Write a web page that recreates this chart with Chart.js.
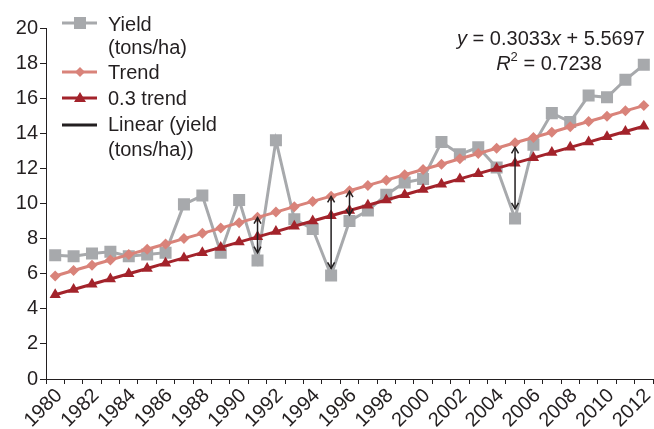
<!DOCTYPE html>
<html lang="en">
<head>
    <meta charset="UTF-8">
    <title>Yield trend</title>
    <style>
        body {
            margin: 0;
            background-color: #ffffff;
        }
        #chart {
            display: block;
        }
    </style>
</head>
<body>
    <canvas id="chart" width="654" height="429"></canvas>

    <script src="https://cdn.jsdelivr.net/npm/chart.js"></script>
    <script>
        // Chart values
        const years = ['1980', '1981', '1982', '1983', '1984', '1985', '1986', '1987', '1988', '1989',
            '1990', '1991', '1992', '1993', '1994', '1995', '1996', '1997', '1998', '1999',
            '2000', '2001', '2002', '2003', '2004', '2005', '2006', '2007', '2008', '2009',
            '2010', '2011', '2012'];
        const yieldTons = [7.05, 7.0, 7.15, 7.25, 7.0, 7.1, 7.2, 9.95, 10.45, 7.2,
            10.2, 6.75, 13.6, 9.1, 8.55, 5.9, 9.0, 9.6, 10.5, 11.2,
            11.4, 13.5, 12.8, 13.2, 12.05, 9.15, 13.35, 15.15, 14.65, 16.15,
            16.05, 17.05, 17.9];
        const trend = [5.87, 6.18, 6.48, 6.78, 7.09, 7.39, 7.69, 8.00, 8.30, 8.60,
            8.91, 9.21, 9.51, 9.82, 10.12, 10.42, 10.73, 11.03, 11.33, 11.64,
            11.94, 12.24, 12.55, 12.85, 13.15, 13.46, 13.76, 14.06, 14.37, 14.67,
            14.97, 15.28, 15.58];
        const trend03 = [4.8, 5.1, 5.4, 5.7, 6.0, 6.3, 6.6, 6.9, 7.2, 7.5,
            7.8, 8.1, 8.4, 8.7, 9.0, 9.3, 9.6, 9.9, 10.2, 10.5,
            10.8, 11.1, 11.4, 11.7, 12.0, 12.3, 12.6, 12.9, 13.2, 13.5,
            13.8, 14.1, 14.4];
        const yTicks = [0, 2, 4, 6, 8, 10, 12, 14, 16, 18, 20];

        // double-headed arrows (year, top value, bottom value)
        const arrowYears = ['1991', '1995', '1996', '2005'];
        const arrowTop = [9.2, 10.4, 10.7, 13.2];
        const arrowBottom = [7.2, 6.3, 9.35, 9.7];

        const GREY = '#a7a9ac';
        const SALMON = '#d9837a';
        const DARKRED = '#a3232b';
        const INK = '#231f20';
        const FONT = '"Liberation Sans", Arial, Helvetica, sans-serif';

        function arrowHead(ctx, x, y, dir) {
            ctx.beginPath();
            ctx.moveTo(x - 3.5, y + dir * 6);
            ctx.lineTo(x, y);
            ctx.lineTo(x + 3.5, y + dir * 6);
            ctx.stroke();
        }

        const arrowsPlugin = {
            id: 'arrows',
            afterDatasetsDraw(chart) {
                const ctx = chart.ctx;
                const xs = chart.scales.x;
                const ys = chart.scales.y;
                ctx.save();
                ctx.strokeStyle = INK;
                ctx.lineWidth = 1.5;
                arrowYears.forEach((yr, i) => {
                    const px = xs.getPixelForValue(years.indexOf(yr));
                    const top = ys.getPixelForValue(arrowTop[i]);
                    const bot = ys.getPixelForValue(arrowBottom[i]);
                    ctx.beginPath();
                    ctx.moveTo(px, top);
                    ctx.lineTo(px, bot);
                    ctx.stroke();
                    arrowHead(ctx, px, top, 1);
                    arrowHead(ctx, px, bot, -1);
                });
                ctx.restore();
            }
        };

        // text pieces: [text, italic, superscript]
        function drawRich(ctx, parts, cx, baseline) {
            let total = 0;
            parts.forEach(p => {
                ctx.font = (p[1] ? 'italic ' : '') + (p[2] ? '13px ' : '20px ') + FONT;
                total += ctx.measureText(p[0]).width;
            });
            let x = cx - total / 2;
            parts.forEach(p => {
                ctx.font = (p[1] ? 'italic ' : '') + (p[2] ? '13px ' : '20px ') + FONT;
                ctx.fillText(p[0], x, p[2] ? baseline - 9 : baseline);
                x += ctx.measureText(p[0]).width;
            });
        }

        const legendPlugin = {
            id: 'customLegend',
            afterDraw(chart) {
                const ctx = chart.ctx;
                ctx.save();
                ctx.lineWidth = 3;

                // Yield
                ctx.strokeStyle = GREY;
                ctx.beginPath(); ctx.moveTo(62, 23); ctx.lineTo(97, 23); ctx.stroke();
                ctx.fillStyle = GREY;
                ctx.fillRect(74, 17, 12, 12);

                // Trend
                ctx.strokeStyle = SALMON;
                ctx.beginPath(); ctx.moveTo(62, 72); ctx.lineTo(97, 72); ctx.stroke();
                ctx.fillStyle = SALMON;
                ctx.beginPath();
                ctx.moveTo(80, 67); ctx.lineTo(85, 72); ctx.lineTo(80, 77); ctx.lineTo(75, 72);
                ctx.closePath(); ctx.fill();

                // 0.3 trend
                ctx.strokeStyle = DARKRED;
                ctx.beginPath(); ctx.moveTo(62, 98); ctx.lineTo(97, 98); ctx.stroke();
                ctx.fillStyle = DARKRED;
                ctx.beginPath();
                ctx.moveTo(80, 92); ctx.lineTo(86, 102); ctx.lineTo(74, 102);
                ctx.closePath(); ctx.fill();

                // Linear
                ctx.strokeStyle = INK;
                ctx.beginPath(); ctx.moveTo(62, 125); ctx.lineTo(97, 125); ctx.stroke();

                ctx.fillStyle = INK;
                ctx.font = '20px ' + FONT;
                ctx.textBaseline = 'alphabetic';
                ctx.textAlign = 'left';
                ctx.fillText('Yield', 108, 31);
                ctx.fillText('(tons/ha)', 108, 54);
                ctx.fillText('Trend', 108, 79);
                ctx.fillText('0.3 trend', 108, 105);
                ctx.fillText('Linear (yield', 108, 131);
                ctx.fillText('(tons/ha))', 108, 156);

                // regression equation
                drawRich(ctx, [['y', true], [' = 0.3033', false], ['x', true], [' + 5.5697', false]], 551, 45);
                drawRich(ctx, [['R', true], ['2', false, true], [' = 0.7238', false]], 549, 70);
                ctx.restore();
            }
        };

        new Chart(document.getElementById('chart'), {
            type: 'line',
            data: {
                labels: years,
                datasets: [
                    {
                        label: 'Yield (tons/ha)',
                        data: yieldTons,
                        borderColor: GREY,
                        backgroundColor: GREY,
                        borderWidth: 3,
                        pointStyle: 'rect',
                        pointRadius: 8.5,
                        pointBorderWidth: 0,
                        order: 4
                    },
                    {
                        label: 'Linear (yield (tons/ha))',
                        data: trend,
                        borderColor: INK,
                        borderWidth: 1,
                        pointRadius: 0,
                        order: 3
                    },
                    {
                        label: 'Trend',
                        data: trend,
                        borderColor: SALMON,
                        backgroundColor: SALMON,
                        borderWidth: 3,
                        pointStyle: 'rectRot',
                        pointRadius: 5.5,
                        pointBorderWidth: 0,
                        order: 2
                    },
                    {
                        label: '0.3 trend',
                        data: trend03,
                        borderColor: DARKRED,
                        backgroundColor: DARKRED,
                        borderWidth: 3,
                        pointStyle: 'triangle',
                        pointRadius: 6.5,
                        pointBorderWidth: 0,
                        order: 1
                    }
                ]
            },
            options: {
                responsive: false,
                animation: false,
                devicePixelRatio: 1,
                layout: {
                    autoPadding: false,
                    padding: { top: 28, right: 1, left: 0, bottom: 0 }
                },
                plugins: {
                    legend: { display: false },
                    tooltip: { enabled: false }
                },
                scales: {
                    x: {
                        offset: true,
                        grid: {
                            offset: true,
                            drawOnChartArea: false,
                            tickLength: 5,
                            color: INK
                        },
                        border: { color: INK, width: 1 },
                        ticks: {
                            autoSkip: false,
                            minRotation: 45,
                            maxRotation: 45,
                            padding: 0,
                            labelOffset: 4,
                            color: INK,
                            font: { family: FONT, size: 20 },
                            callback: (val, i) => (i % 2 === 0 ? years[i] : '')
                        },
                        afterFit(scale) {
                            scale.height = 50;
                            scale.paddingLeft = 0;
                            scale.paddingRight = 0;
                        }
                    },
                    y: {
                        min: yTicks[0],
                        max: yTicks[yTicks.length - 1],
                        grid: {
                            drawOnChartArea: false,
                            tickLength: 6,
                            color: INK
                        },
                        border: { color: INK, width: 1 },
                        ticks: {
                            stepSize: 2,
                            padding: 2,
                            color: INK,
                            font: { family: FONT, size: 20 }
                        },
                        afterFit(scale) {
                            scale.width = 46;
                            scale.paddingTop = 0;
                            scale.paddingBottom = 0;
                        }
                    }
                }
            },
            plugins: [arrowsPlugin, legendPlugin]
        });
    </script>
</body>
</html>
